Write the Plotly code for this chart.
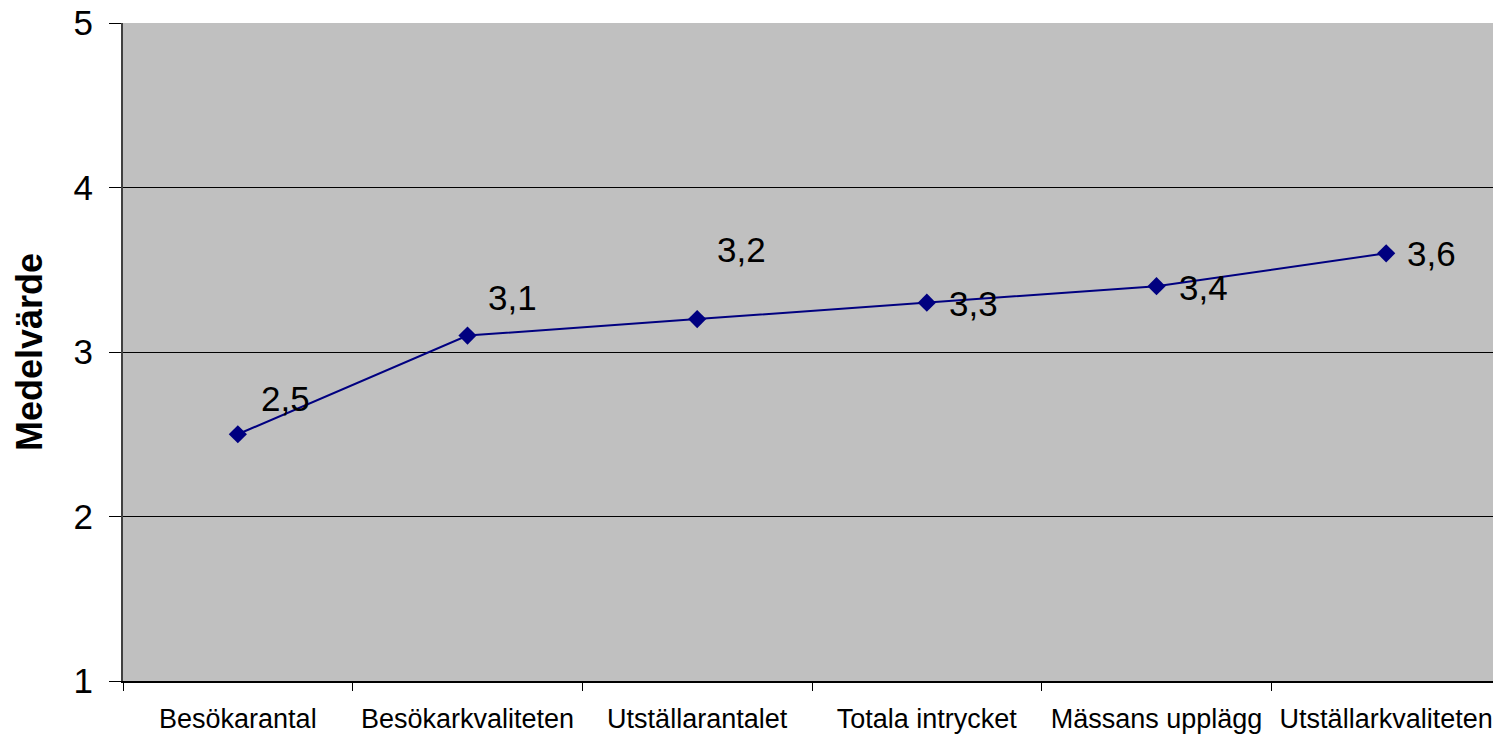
import plotly.graph_objects as go

categories = ["Besökarantal", "Besökarkvaliteten", "Utställarantalet",
              "Totala intrycket", "Mässans upplägg", "Utställarkvaliteten"]
values = [2.5, 3.1, 3.2, 3.3, 3.4, 3.6]
labels = ["2,5", "3,1", "3,2", "3,3", "3,4", "3,6"]
y_ticks = [1, 2, 3, 4, 5]

# label offsets in pixels (style only)
label_dx = [48, 45, 44, 47, 47, 45]
label_dy = [36, 38, 70, -1, -1, 0]

fig = go.Figure()
fig.add_trace(go.Scatter(
    x=categories, y=values, mode="lines+markers",
    line=dict(color="#000080", width=2),
    marker=dict(symbol="diamond", size=14, color="#000080"),
    showlegend=False, hoverinfo="skip",
))

for c, v, t, dx, dy in zip(categories, values, labels, label_dx, label_dy):
    fig.add_annotation(x=c, y=v, text=t, showarrow=False, xshift=dx, yshift=dy,
                       font=dict(family="Liberation Sans, Arial", size=35, color="black"))

fig.update_layout(
    width=1493, height=728,
    margin=dict(l=115, r=0, t=15, b=55, autoexpand=False),
    paper_bgcolor="white", plot_bgcolor="#C0C0C0",
    font=dict(family="Liberation Sans, Arial", color="black"),
)
fig.update_xaxes(
    type="category", range=[-0.5, 5.5], tickson="boundaries",
    ticks="outside", ticklen=8, tickcolor="black",
    showline=True, linecolor="black", linewidth=2,
    showgrid=False, tickfont=dict(size=27), ticklabelstandoff=13,
    ticklabeloverflow="allow", automargin=False,
)
fig.update_yaxes(
    range=[1, 5], tickvals=y_ticks, ticktext=[str(v) for v in y_ticks],
    ticks="outside", ticklen=12, tickcolor="black",
    showline=True, linecolor="#404040", linewidth=2,
    showgrid=True, gridcolor="black", gridwidth=1, zeroline=False,
    tickfont=dict(size=35), ticklabelstandoff=9, ticklabeloverflow="allow",
    automargin=False,
    title=dict(text="<b>Medelvärde</b>", font=dict(size=36), standoff=20),
)
fig.write_html("out.html")
